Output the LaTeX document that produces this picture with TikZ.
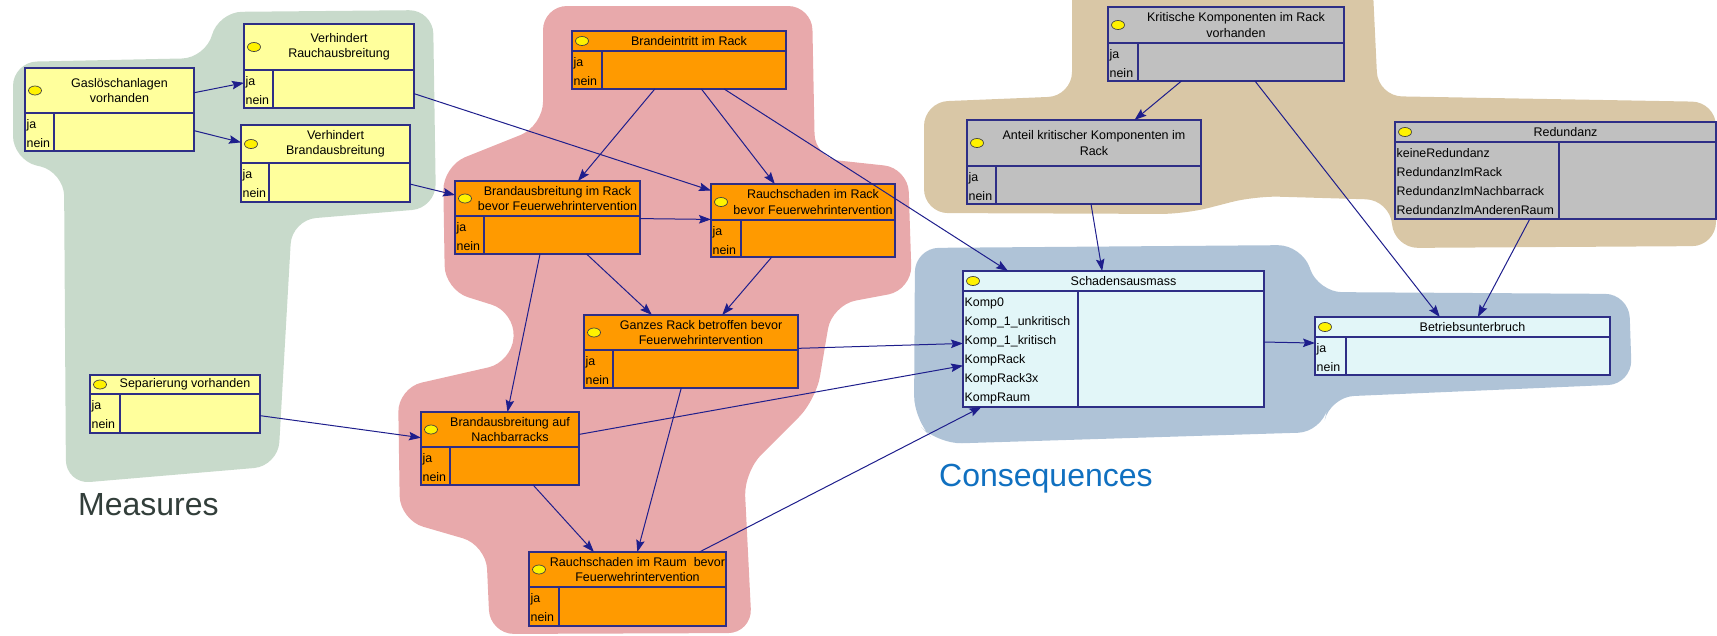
\documentclass[tikz,border=0pt]{standalone}
\usepackage{fontspec}
\setmainfont{Liberation Sans}
\usetikzlibrary{arrows.meta,fit,shapes.geometric}
\definecolor{blobgreen}{HTML}{C8DACB}
\definecolor{blobred}{HTML}{E8A9AB}
\definecolor{blobtan}{HTML}{D9C7A6}
\definecolor{blobblue}{HTML}{AFC3D7}
\definecolor{boxyellow}{HTML}{FFFF9C}
\definecolor{boxorange}{HTML}{FF9A00}
\definecolor{boxgrey}{HTML}{C0C0C0}
\definecolor{boxcyan}{HTML}{E2F6F8}
\definecolor{bnborder}{HTML}{2E2E86}
\definecolor{arrowc}{HTML}{1E1E8C}
\definecolor{measc}{HTML}{323E3A}
\definecolor{consc}{HTML}{1070C0}
\tikzset{
  bnb/.style={draw=bnborder, line width=1.1pt, inner sep=0pt, outer sep=0pt, rectangle},
  bnl/.style={draw=bnborder, line width=1.1pt},
  bndot/.style={ellipse, draw=black!75, line width=0.7pt, fill=yellow, minimum width=13pt, minimum height=9pt, inner sep=0pt},
  bntitle/.style={align=center, inner sep=0pt, font=\fontsize{12.5}{15.5}\selectfont},
  bnstate/.style={anchor=base west, inner sep=0pt, font=\fontsize{12.4}{15.5}\selectfont},
  arr/.style={draw=arrowc, line width=1pt, -{Stealth[length=12pt,width=8.5pt,inset=2pt]}},
  blob/.style={rounded corners=24pt},
  biglabel/.style={anchor=base west, inner sep=0pt, font=\fontsize{32}{38}\selectfont}
}
\newcommand\curstates{ja,nein}
% #1 name, #2 x1, #3 y1, #4 x2, #5 y2, #6 header bottom, #7 column x, #8 fill, #9 title
\newcommand\bnbox[9]{%
  \node[bnb, fill=#8, fit={(#2,#3)(#4,#5)}] (#1) {};
  \draw[bnl] (#2,#6) -- (#4,#6);
  \draw[bnl] (#7,#6) -- (#7,#5);
  \node[bndot] (#1-dot) at ({#2+10},{(#3+#6)/2}) {};
  \node[bntitle] (#1-title) at ({(#2+20+#4)/2},{(#3+#6)/2}) {#9};
  \foreach \s [count=\i from 0] in \curstates {
    \node[bnstate] (#1-s\i) at ({#2+1.5},{#6+15+19*\i}) {\s};
  }%
}
\begin{document}
\begin{tikzpicture}[x=1pt,y=-1pt]
\useasboundingbox (0,0) rectangle (1717,635);
% background groups
\fill[blobgreen, blob] (13,62) -- (206,58) -- (218,12) -- (433,10) -- (436,208) -- (292,220) -- (278,466) -- (66,484) -- (64,172) -- (13,160) -- cycle;
\fill[blobred, blob] (543,6) -- (812,6) -- (815,158) -- (908,168) -- (912,290) -- (832,305) -- (816,400) -- (744,472) -- (752,633) -- (490,634) -- (486,545) -- (400,520) -- (398,388) -- (512,362) -- (515,312) -- (445,290) -- (443,166) -- (543,126) -- cycle;
\fill[blobtan, blob] (1072,-30) -- (1372,-30) -- (1378,96) -- (1716,102) -- (1716,246) -- (1394,248) -- (1390,200) -- (1255,196) -- (1185,214) -- (924,213) -- (924,102) -- (1072,96) -- cycle;
\fill[blobblue, blob] (915,248) -- (1302,245) -- (1318,292) -- (1629,294) -- (1632,384) -- (1330,397) -- (1322,432) -- (938,444) -- (914,420) -- cycle;
% labels
\node[biglabel, text=measc] (measures) at (78,515) {Measures};
\node[biglabel, text=consc] (consequences) at (939,486) {Consequences};
% nodes
\bnbox{gas}{25}{68}{194}{151}{113}{54}{boxyellow}{Gaslöschanlagen\\vorhanden}
\bnbox{vr}{244}{24}{414}{108}{70}{273}{boxyellow}{Verhindert\\Rauchausbreitung}
\bnbox{vb}{241}{125}{410}{202}{163}{269}{boxyellow}{Verhindert\\Brandausbreitung}
\bnbox{sep}{90}{375}{260}{433}{394}{120}{boxyellow}{Separierung vorhanden}
\bnbox{be}{572}{31}{786}{89}{51}{602}{boxorange}{Brandeintritt im Rack}
\bnbox{bar}{455}{181}{640}{254}{216}{484}{boxorange}{Brandausbreitung im Rack\\bevor Feuerwehrintervention}
\bnbox{rr}{711}{184}{895}{257}{220}{741}{boxorange}{Rauchschaden im Rack\\bevor Feuerwehrintervention}
\bnbox{gr}{584}{315}{798}{388}{350}{613}{boxorange}{Ganzes Rack betroffen bevor\\Feuerwehrintervention}
\bnbox{bn}{421}{412}{579}{485}{447}{450}{boxorange}{Brandausbreitung auf\\Nachbarracks}
\bnbox{rraum}{529}{552}{726}{626}{587}{559}{boxorange}{Rauchschaden im Raum\ \ bevor\\Feuerwehrintervention}
\bnbox{krit}{1108}{7}{1344}{81}{43}{1138}{boxgrey}{Kritische Komponenten im Rack\\vorhanden}
\bnbox{ant}{967}{120}{1201}{204}{166}{996}{boxgrey}{Anteil kritischer Komponenten im\\Rack}
\renewcommand\curstates{keineRedundanz,RedundanzImRack,RedundanzImNachbarrack,RedundanzImAnderenRaum}
\bnbox{red}{1395}{122}{1716}{219}{142}{1559}{boxgrey}{Redundanz}
\renewcommand\curstates{Komp0,Komp\_1\_unkritisch,Komp\_1\_kritisch,KompRack,KompRack3x,KompRaum}
\bnbox{schad}{963}{271}{1264}{407}{291}{1078}{boxcyan}{Schadensausmass}
\renewcommand\curstates{ja,nein}
\bnbox{betr}{1315}{317}{1610}{375}{337}{1346}{boxcyan}{Betriebsunterbruch}
% connectors
\draw[arr] (gas) -- (vr);
\draw[arr] (gas) -- (vb);
\draw[arr] (vr) -- (rr);
\draw[arr] (vb) -- (bar);
\draw[arr] (be) -- (bar);
\draw[arr] (be) -- (rr);
\draw[arr] (be) -- (schad);
\draw[arr] (bar) -- (rr);
\draw[arr] (bar) -- (bn);
\draw[arr] (bar) -- (gr);
\draw[arr] (rr) -- (gr);
\draw[arr] (gr) -- (schad);
\draw[arr] (bn) -- (schad);
\draw[arr] (gr) -- (rraum);
\draw[arr] (bn) -- (rraum);
\draw[arr] (rraum) -- (schad);
\draw[arr] (sep) -- (bn);
\draw[arr] (krit) -- (ant);
\draw[arr] (krit) -- (betr);
\draw[arr] (ant) -- (schad);
\draw[arr] (red) -- (betr);
\draw[arr] (schad) -- (betr);
\end{tikzpicture}
\end{document}
